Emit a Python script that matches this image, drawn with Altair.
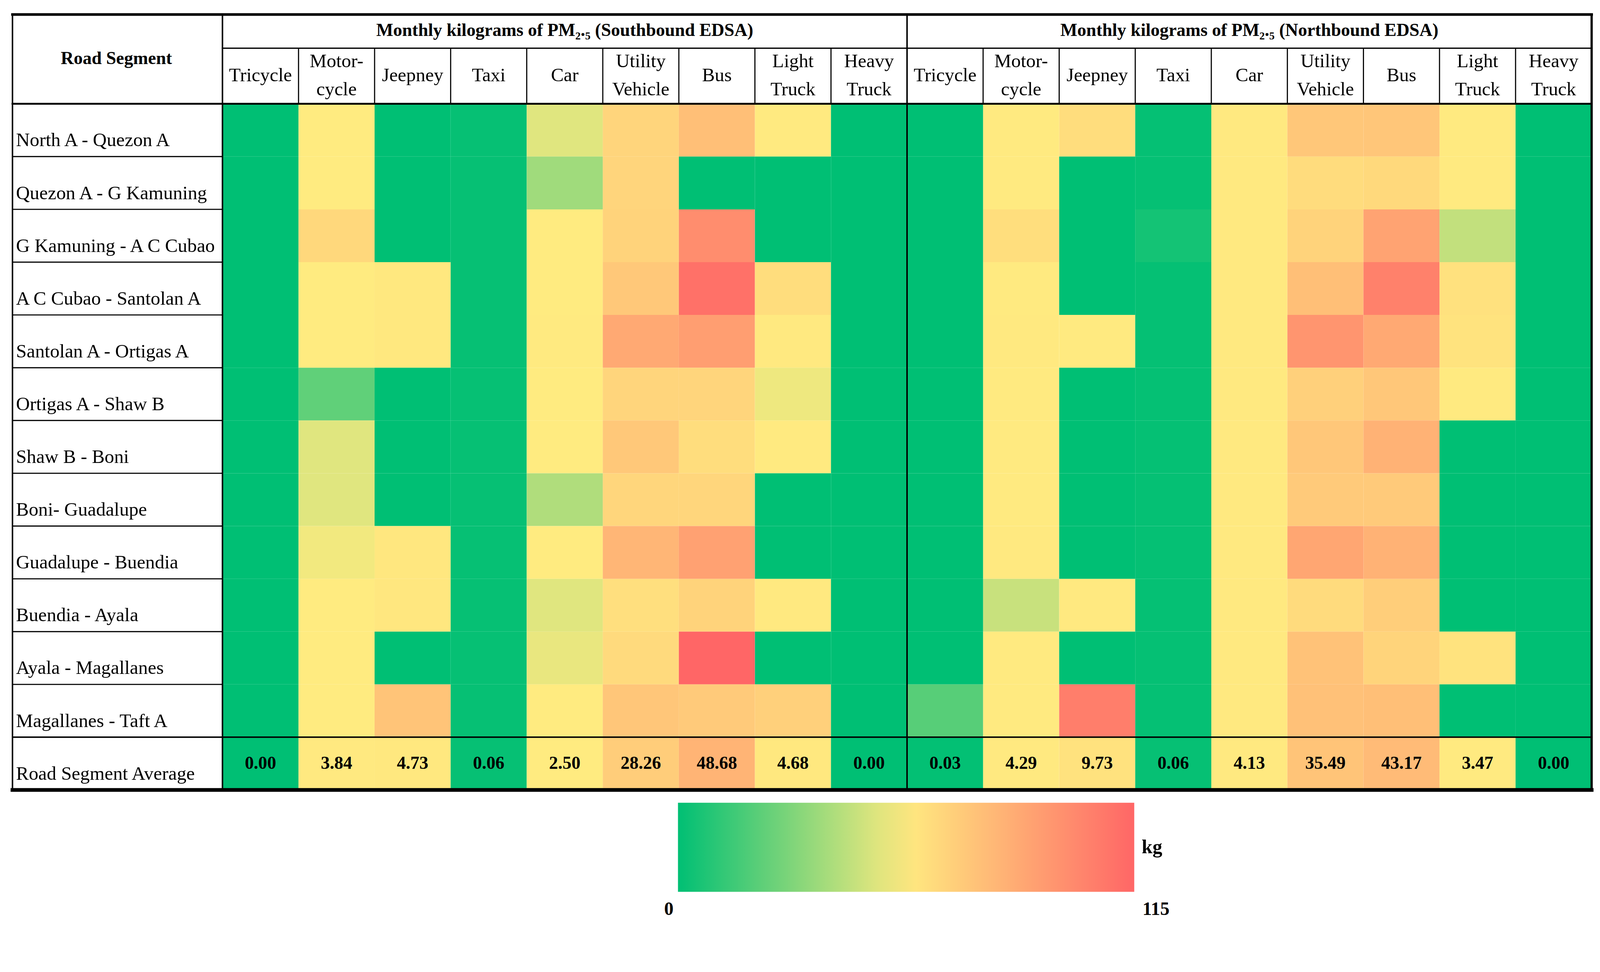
import altair as alt
import pandas as pd

# ------------------------------------------------------------------ data
segments = [
    "North A - Quezon A", "Quezon A - G Kamuning", "G Kamuning - A C Cubao",
    "A C Cubao - Santolan A", "Santolan A - Ortigas A", "Ortigas A - Shaw B",
    "Shaw B - Boni", "Boni- Guadalupe", "Guadalupe - Buendia",
    "Buendia - Ayala", "Ayala - Magallanes", "Magallanes - Taft A",
]
average_label = "Road Segment Average"
vehicles = ["Tricycle", "Motorcycle", "Jeepney", "Taxi", "Car",
            "Utility Vehicle", "Bus", "Light Truck", "Heavy Truck"]
vehicle_header_lines = [["Tricycle"], ["Motor-", "cycle"], ["Jeepney"], ["Taxi"], ["Car"],
                        ["Utility", "Vehicle"], ["Bus"], ["Light", "Truck"], ["Heavy", "Truck"]]
direction_keys = ["SB", "NB"]
direction_titles = ["Monthly kilograms of PM\u2082.\u2085 (Southbound EDSA)",
                    "Monthly kilograms of PM\u2082.\u2085 (Northbound EDSA)"]

sb_tricycle = [0.00, 0.00, 0.00, 0.00, 0.00, 0.00, 0.00, 0.00, 0.00, 0.00, 0.00, 0.00]
sb_motorcycle = [2.8, 2.8, 18.6, 2.8, 2.8, 0.94, 2.2, 2.2, 2.37, 2.8, 2.8, 2.8]
sb_jeepney = [0.0, 0.0, 0.0, 5.0, 5.0, 0.0, 0.0, 0.0, 5.5, 6.0, 0.0, 35.5]
sb_taxi = [0.06, 0.06, 0.06, 0.06, 0.06, 0.06, 0.06, 0.06, 0.06, 0.06, 0.06, 0.06]
sb_car = [2.2, 1.57, 2.8, 2.9, 3.0, 2.8, 2.9, 1.73, 2.8, 2.2, 2.28, 2.8]
sb_utility = [21, 21, 23, 32, 58, 21, 32, 20, 47, 13, 17, 34]
sb_bus = [40, 0, 82, 106, 68, 21, 14, 20, 65, 23, 115, 30]
sb_light_truck = [3.5, 0.0, 0.0, 14.5, 4.0, 2.33, 3.0, 0.0, 0.0, 4.0, 0.0, 25.0]
sb_heavy_truck = [0.00, 0.00, 0.00, 0.00, 0.00, 0.00, 0.00, 0.00, 0.00, 0.00, 0.00, 0.00]

# Northbound EDSA
nb_tricycle = [0.00, 0.00, 0.00, 0.00, 0.00, 0.00, 0.00, 0.00, 0.00, 0.00, 0.00, 0.85]
nb_motorcycle = [3.4, 3.4, 13.5, 3.5, 4.5, 3.5, 3.4, 3.4, 4.0, 1.96, 3.5, 3.5]
nb_jeepney = [14.5, 0.0, 0.0, 0.0, 3.0, 0.0, 0.0, 0.0, 0.0, 4.0, 0.0, 95.0]
nb_taxi = [0.05, 0.05, 0.2, 0.05, 0.05, 0.05, 0.05, 0.05, 0.05, 0.05, 0.05, 0.05]
nb_car = [3.8, 3.9, 3.8, 4.5, 4.6, 4.2, 4.2, 4.0, 4.4, 3.9, 3.9, 4.4]
nb_utility = [33, 15, 23, 40, 75, 25, 33, 30, 61, 16, 37, 38]
nb_bus = [34, 18, 63, 92, 58, 33, 51, 30, 51, 27, 22, 40]
nb_light_truck = [3.5, 3.5, 1.9, 11.0, 9.5, 3.0, 0.0, 0.0, 0.0, 0.0, 9.5, 0.0]
nb_heavy_truck = [0.00, 0.00, 0.00, 0.00, 0.00, 0.00, 0.00, 0.00, 0.00, 0.00, 0.00, 0.00]

sb_average = [0.00, 3.84, 4.73, 0.06, 2.50, 28.26, 48.68, 4.68, 0.00]
nb_average = [0.03, 4.29, 9.73, 0.06, 4.13, 35.49, 43.17, 3.47, 0.00]

legend_range = [0, 115]
colour_mid = 2.5          # value that maps to yellow in the cell colouring

# ------------------------------------------------------------------ tables
sb_series = [sb_tricycle, sb_motorcycle, sb_jeepney, sb_taxi, sb_car,
             sb_utility, sb_bus, sb_light_truck, sb_heavy_truck]
nb_series = [nb_tricycle, nb_motorcycle, nb_jeepney, nb_taxi, nb_car,
             nb_utility, nb_bus, nb_light_truck, nb_heavy_truck]

records = []
for d, series, avgs in [("SB", sb_series, sb_average), ("NB", nb_series, nb_average)]:
    for v, vals, avg in zip(vehicles, series, avgs):
        key = f"{d}|{v}"
        for seg, val in zip(segments, vals):
            records.append({"col": key, "row": seg, "value": val, "is_avg": False})
        records.append({"col": key, "row": average_label, "value": avg, "is_avg": True})
cells = pd.DataFrame(records)
avg_df = cells[cells["is_avg"]]

col_keys = [f"{d}|{v}" for d in direction_keys for v in vehicles]
row_order = segments + [average_label]

single_rows, first_rows, second_rows = [], [], []
for d in direction_keys:
    for v, lines in zip(vehicles, vehicle_header_lines):
        key = f"{d}|{v}"
        if len(lines) == 1:
            single_rows.append({"col": key, "label": lines[0]})
        else:
            first_rows.append({"col": key, "label": lines[0]})
            second_rows.append({"col": key, "label": lines[1]})
group_df = pd.DataFrame({"col": [f"{d}|Car" for d in direction_keys], "label": direction_titles})

# ------------------------------------------------------------------ style
FONT = "Liberation Serif"
GREEN, YELLOW, RED = "#00BF74", "#FFEB80", "#FF6666"
W = 3658
ROW = 141
H = ROW * len(row_order)
ROAD_W = 561
TOP = -238.5
HEAD_SEP = -148.5
FS = 51
LEG_X, LEG_Y, LEG_LEN, LEG_THICK = 1217, 1867, 1219, 238

x_scale = alt.Scale(domain=col_keys, paddingInner=0, paddingOuter=0)
y_scale = alt.Scale(domain=row_order, paddingInner=0, paddingOuter=0)

y_axis = alt.Axis(
    orient="left", title="Road Segment", titleAngle=0, titleX=-284, titleY=-107,
    titleAlign="center", titleBaseline="alphabetic", titleFont=FONT,
    titleFontSize=48, titleFontWeight="bold", titleColor="black",
    labelFont=FONT, labelFontSize=FS, labelColor="black", labelAlign="left",
    labelBaseline="alphabetic", labelPadding=552, labelOffset=43, labelLimit=0,
    ticks=False, tickSize=0, domain=False, grid=False,
)

X = alt.X("col:N", scale=x_scale, axis=None)
Y = alt.Y("row:N", scale=y_scale, axis=y_axis)

cell_scale = alt.Scale(domain=[legend_range[0], colour_mid, legend_range[1]],
                       range=[GREEN, YELLOW, RED], interpolate="rgb")
legend_scale = alt.Scale(domain=[legend_range[0], (legend_range[0] + legend_range[1]) / 2, legend_range[1]],
                         range=[GREEN, YELLOW, RED], interpolate="rgb")

cells_layer = alt.Chart(cells).mark_rect().encode(
    x=X, y=Y, color=alt.Color("value:Q", scale=cell_scale, legend=None)
)

legend_layer = alt.Chart(cells).mark_rect(opacity=0).encode(
    x=X, y=Y,
    color=alt.Color(
        "value:Q", scale=legend_scale,
        legend=alt.Legend(
            orient="none", legendX=LEG_X, legendY=LEG_Y, direction="horizontal",
            title="kg", titleOrient="right", titleAnchor="middle", titleBaseline="middle",
            titlePadding=20, titleFont=FONT, titleFontSize=52, titleFontWeight="bold",
            titleColor="black", gradientLength=LEG_LEN, gradientThickness=LEG_THICK,
            gradientStrokeWidth=0, values=legend_range, labelFont=FONT,
            labelFontSize=50, labelFontWeight="bold", labelColor="black", labelOffset=18,
            labelOpacity=0,
        ),
    ),
)

# end labels of the colour bar, placed just outside its two ends
leg_lo = alt.Chart(pd.DataFrame({"v": [legend_range[0]]})).mark_text(
    font=FONT, fontSize=50, fontWeight="bold", align="right", baseline="alphabetic", color="black"
).encode(x=alt.value(LEG_X - 12), y=alt.value(LEG_Y + LEG_THICK + 62), text="v:Q")
leg_hi = alt.Chart(pd.DataFrame({"v": [legend_range[1]]})).mark_text(
    font=FONT, fontSize=50, fontWeight="bold", align="left", baseline="alphabetic", color="black"
).encode(x=alt.value(LEG_X + LEG_LEN + 22), y=alt.value(LEG_Y + LEG_THICK + 62), text="v:Q")

one = pd.DataFrame({"k": [0]})


def hrule(y, x1, x2, w):
    return alt.Chart(one).mark_rule(color="black", strokeWidth=w, strokeCap="square").encode(
        x=alt.value(x1), x2=alt.value(x2), y=alt.value(y))


def vrule(x, y1, y2, w):
    return alt.Chart(one).mark_rule(color="black", strokeWidth=w, strokeCap="square").encode(
        x=alt.value(x), y=alt.value(y1), y2=alt.value(y2))


row_sep = alt.Chart(pd.DataFrame({"row": segments[1:]})).mark_rule(color="black", strokeWidth=3).encode(
    y=alt.Y("row:N", scale=y_scale, axis=y_axis, bandPosition=0),
    x=alt.value(-ROAD_W), x2=alt.value(0))

avg_sep = alt.Chart(pd.DataFrame({"row": [average_label]})).mark_rule(color="black", strokeWidth=4).encode(
    y=alt.Y("row:N", scale=y_scale, axis=y_axis, bandPosition=0),
    x=alt.value(-ROAD_W), x2=alt.value(W))

head_cols = [c for c in col_keys if not c.endswith("|Tricycle")]
col_sep = alt.Chart(pd.DataFrame({"col": head_cols})).mark_rule(color="black", strokeWidth=3).encode(
    x=alt.X("col:N", scale=x_scale, axis=None, bandPosition=0),
    y=alt.value(HEAD_SEP), y2=alt.value(0))

dir_sep = alt.Chart(pd.DataFrame({"col": ["NB|Tricycle"]})).mark_rule(color="black", strokeWidth=4).encode(
    x=alt.X("col:N", scale=x_scale, axis=None, bandPosition=0),
    y=alt.value(TOP), y2=alt.value(H))

avg_text = alt.Chart(avg_df).mark_text(
    font=FONT, fontSize=48, fontWeight="bold", baseline="middle", color="black"
).encode(x=X, y=Y, text=alt.Text("value:Q", format=".2f"))


def header_layer(rows, y):
    return alt.Chart(pd.DataFrame(rows)).mark_text(
        font=FONT, fontSize=FS, baseline="alphabetic", color="black"
    ).encode(x=X, y=alt.value(y), text="label:N")


group_text = alt.Chart(group_df).mark_text(
    font=FONT, fontSize=48, fontWeight="bold", baseline="alphabetic", color="black"
).encode(x=X, y=alt.value(-181), text="label:N")

chart = alt.layer(
    cells_layer, legend_layer,
    row_sep, avg_sep, col_sep, dir_sep,
    hrule(TOP, -ROAD_W, W, 7),
    hrule(HEAD_SEP, 0, W, 3.5),
    hrule(0, -ROAD_W, W, 5),
    hrule(H, -ROAD_W, W, 10),
    vrule(-ROAD_W, TOP, H, 4),
    vrule(0, TOP, H, 4),
    vrule(W, TOP, H, 6),
    avg_text,
    header_layer(single_rows, -60),
    header_layer(first_rows, -98),
    header_layer(second_rows, -23),
    group_text, leg_lo, leg_hi,
).resolve_scale(color="independent").properties(
    width=W, height=H,
    autosize=alt.AutoSizeParams(type="none"),
    padding={"left": 586, "top": 217, "right": 14, "bottom": 330},
).configure_view(strokeWidth=0)

chart.save("out.html", embed_options={"renderer": "svg", "actions": False})
